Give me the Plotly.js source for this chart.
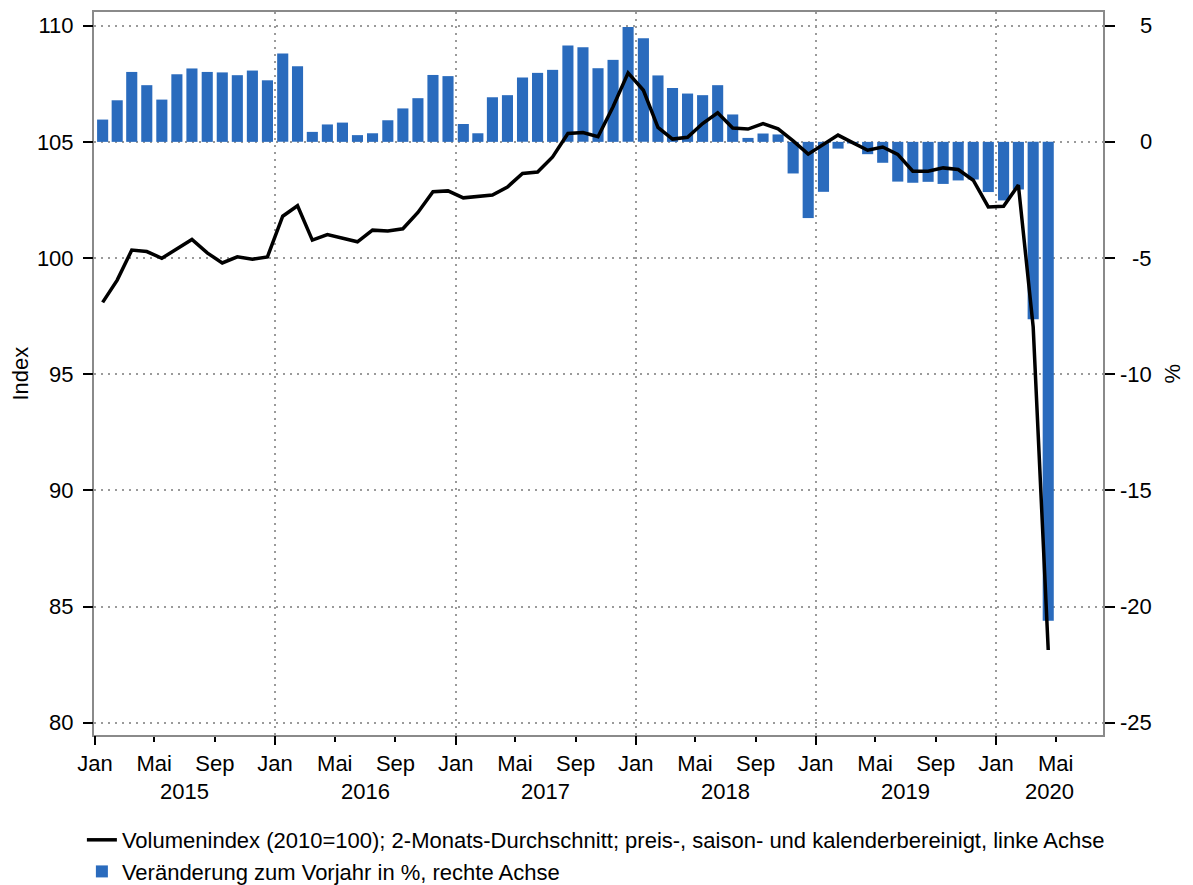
<!DOCTYPE html>
<html>
<head>
<meta charset="utf-8">
<script src="https://cdn.plot.ly/plotly-3.0.1.min.js"></script>
<style>html,body{margin:0;padding:0;background:#fff;}#chart{width:1193px;height:885px;}</style>
</head>
<body>
<div id="chart"></div>
<script>
// ---- data ----
const months = [
 '2015-01','2015-02','2015-03','2015-04','2015-05','2015-06','2015-07','2015-08','2015-09','2015-10','2015-11','2015-12',
 '2016-01','2016-02','2016-03','2016-04','2016-05','2016-06','2016-07','2016-08','2016-09','2016-10','2016-11','2016-12',
 '2017-01','2017-02','2017-03','2017-04','2017-05','2017-06','2017-07','2017-08','2017-09','2017-10','2017-11','2017-12',
 '2018-01','2018-02','2018-03','2018-04','2018-05','2018-06','2018-07','2018-08','2018-09','2018-10','2018-11','2018-12',
 '2019-01','2019-02','2019-03','2019-04','2019-05','2019-06','2019-07','2019-08','2019-09','2019-10','2019-11','2019-12',
 '2020-01','2020-02','2020-03','2020-04'
];
const changePct = [
 0.96, 1.79, 3.01, 2.44, 1.82, 2.91, 3.16, 3.01, 2.99, 2.87, 3.07, 2.65,
 3.80, 3.26, 0.43, 0.75, 0.83, 0.29, 0.37, 0.93, 1.44, 1.88, 2.88, 2.83,
 0.77, 0.37, 1.92, 2.01, 2.77, 2.97, 3.10, 4.15, 4.07, 3.17, 3.53, 4.94,
 4.46, 2.86, 2.32, 2.08, 2.01, 2.44, 1.18, 0.17, 0.36, 0.32, -1.36, -3.28,
 -2.15, -0.29, -0.07, -0.53, -0.90, -1.71, -1.76, -1.72, -1.81, -1.66, -1.62, -2.16,
 -2.52, -2.05, -7.64, -20.61
];
const volumeIndex = [
 98.09, 99.05, 100.34, 100.28, 99.99, 100.41, 100.80, 100.22, 99.79, 100.05, 99.95, 100.05,
 101.80, 102.25, 100.77, 101.01, 100.86, 100.70, 101.20, 101.16, 101.26, 101.96, 102.85, 102.89,
 102.59, 102.65, 102.71, 103.06, 103.64, 103.70, 104.35, 105.36, 105.40, 105.22, 106.51, 107.97,
 107.22, 105.62, 105.12, 105.20, 105.79, 106.25, 105.60, 105.55, 105.79, 105.56, 105.04, 104.47,
 104.89, 105.29, 104.97, 104.64, 104.78, 104.46, 103.74, 103.74, 103.88, 103.81, 103.35, 102.20,
 102.23, 103.14, 97.04, 83.13
];
const xTickVals = [
 '2015-01-01','2015-05-01','2015-09-01','2016-01-01','2016-05-01','2016-09-01',
 '2017-01-01','2017-05-01','2017-09-01','2018-01-01','2018-05-01','2018-09-01',
 '2019-01-01','2019-05-01','2019-09-01','2020-01-01','2020-05-01'
];
const xTickText = ['Jan','Mai','Sep','Jan','Mai','Sep','Jan','Mai','Sep','Jan','Mai','Sep','Jan','Mai','Sep','Jan','Mai'];
const yearTickVals = ['2015-01-01','2016-01-01','2017-01-01','2018-01-01','2019-01-01','2020-01-01'];
const years = ['2015','2016','2017','2018','2019','2020'];
const leftTicks = [80, 85, 90, 95, 100, 105, 110];
const rightTicks = [5, 0, -5, -10, -15, -20, -25];
const rightTickText = ['5','0','-5','-10','-15','-20','-25'];
const lineName = 'Volumenindex (2010=100); 2-Monats-Durchschnitt; preis-, saison- und kalenderbereinigt, linke Achse';
const barName = 'Veränderung zum Vorjahr in %, rechte Achse';

// ---- styling ----
const FONT = 'Liberation Sans, Arial, Helvetica, sans-serif';
const FS = 22;
const xRange = ['2014-12-30', '2020-08-05'];
const yLeftRange = [79.47, 110.59];
const yRightRange = [-25.53, 5.59];
const DAY = 86400000;
const gridStyle = {color: '#9a9a9a', width: 2, dash: '2px,5px'};
const frameColor = '#8a8a8a';

const traces = [
  {
    type: 'bar', name: barName, x: months, y: changePct,
    xperiod: 'M1', xperiodalignment: 'middle',
    xaxis: 'x', yaxis: 'y',
    width: 22.5 * DAY,
    marker: {color: '#2a6bbd', line: {width: 0}},
    legendrank: 2, legendgroup: 'b', hoverinfo: 'x+y'
  },
  {
    type: 'scatter', mode: 'lines', name: lineName, x: months, y: volumeIndex,
    xperiod: 'M1', xperiodalignment: 'middle',
    xaxis: 'x2', yaxis: 'y2',
    line: {color: '#000000', width: 3.5},
    legendrank: 1, legendgroup: 'a'
  }
];

// year label positions: centre of each year's visible span
const t0 = new Date(xRange[0]).getTime(), t1 = new Date(xRange[1]).getTime();
const annotations = [];
years.forEach((yr, i) => {
  const a = Math.max(new Date(yearTickVals[i]).getTime(), t0);
  const b = Math.min(new Date((+yr + 1) + '-01-01').getTime(), t1);
  annotations.push({
    xref: 'x', yref: 'paper', x: new Date((a + b) / 2).toISOString().slice(0, 10),
    y: -0.0775, yanchor: 'middle', xanchor: 'center', showarrow: false,
    text: yr, font: {family: FONT, size: FS, color: '#000'}
  });
});
rightTicks.forEach((v, i) => {
  annotations.push({
    xref: 'paper', yref: 'y', x: 1.0496, y: v, xanchor: 'right', yanchor: 'middle',
    showarrow: false, text: rightTickText[i], borderpad: 0,
    font: {family: FONT, size: FS, color: '#000'}
  });
});
annotations.push({
  xref: 'paper', yref: 'paper', x: -0.0733, y: 0.5, xanchor: 'center', yanchor: 'middle',
  textangle: -90, showarrow: false, text: 'Index', font: {family: FONT, size: FS, color: '#000'}
});
annotations.push({
  xref: 'paper', yref: 'paper', x: 1.0684, y: 0.5, xanchor: 'center', yanchor: 'middle',
  textangle: -90, showarrow: false, text: '%', font: {family: FONT, size: FS, color: '#000'}
});

const layout = {
  width: 1193, height: 885,
  margin: {l: 94, r: 90, t: 12, b: 150, pad: 0, autoexpand: false},
  paper_bgcolor: '#ffffff', plot_bgcolor: '#ffffff',
  font: {family: FONT, size: FS, color: '#000'},
  showlegend: true,
  barmode: 'overlay',
  xaxis: {
    type: 'date', range: xRange, fixedrange: true,
    tickmode: 'array', tickvals: xTickVals, ticktext: xTickText,
    ticks: 'outside', ticklen: 5, tickwidth: 2, tickcolor: '#000',
    ticklabelstandoff: 3,
    showgrid: false, zeroline: false,
    showline: true, mirror: true, linecolor: frameColor, linewidth: 2,
    tickfont: {family: FONT, size: FS, color: '#000'}
  },
  xaxis2: {
    type: 'date', range: xRange, overlaying: 'x', anchor: 'y2', side: 'bottom',
    tickmode: 'array', tickvals: yearTickVals,
    ticks: 'outside', ticklen: 9, tickwidth: 2, tickcolor: '#000',
    showticklabels: false, showline: false, zeroline: false,
    showgrid: true, gridcolor: gridStyle.color, gridwidth: gridStyle.width, griddash: gridStyle.dash
  },
  yaxis: {
    range: yRightRange, side: 'right', anchor: 'x',
    tickmode: 'array', tickvals: rightTicks,
    ticks: 'outside', ticklen: 10, tickwidth: 2, tickcolor: '#000',
    showticklabels: false, zeroline: false,
    showline: true, mirror: true, linecolor: frameColor, linewidth: 2,
    showgrid: true, gridcolor: gridStyle.color, gridwidth: gridStyle.width, griddash: gridStyle.dash
  },
  yaxis2: {
    range: yLeftRange, side: 'left', overlaying: 'y', anchor: 'x2',
    tickmode: 'array', tickvals: leftTicks,
    ticks: 'outside', ticklen: 10, tickwidth: 2, tickcolor: '#000',
    ticklabelstandoff: 5,
    showgrid: false, zeroline: false, showline: false,
    tickfont: {family: FONT, size: FS, color: '#000'}
  },
  legend: {
    orientation: 'v', x: -0.012, y: -0.1162, xanchor: 'left', yanchor: 'top',
    traceorder: 'grouped', tracegroupgap: 0,
    font: {family: FONT, size: FS, color: '#000'},
    bgcolor: 'rgba(0,0,0,0)', borderwidth: 0
  },
  annotations: annotations
};

Plotly.newPlot('chart', traces, layout, {displayModeBar: false, staticPlot: true});
</script>
</body>
</html>
